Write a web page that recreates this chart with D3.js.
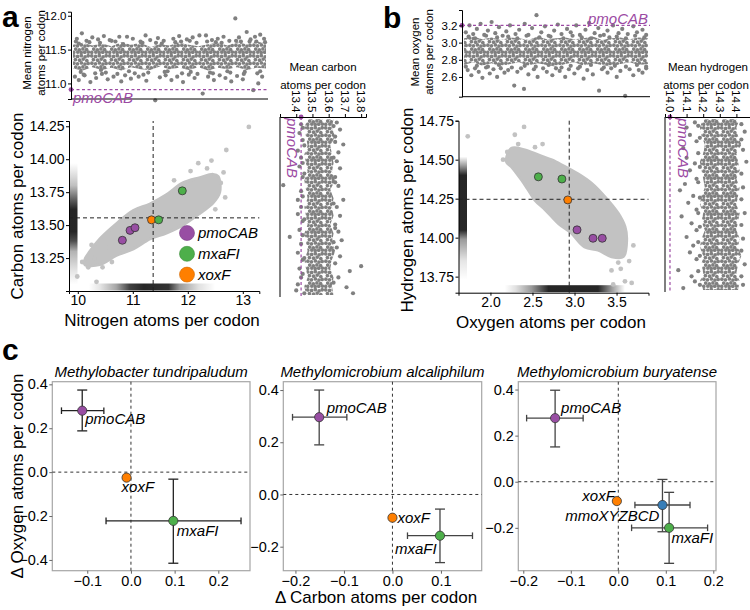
<!DOCTYPE html>
<html><head><meta charset="utf-8">
<script src="https://cdn.jsdelivr.net/npm/d3@7"></script>
<style>
body{margin:0;background:#fff;}
svg{display:block;background:#fff;}
</style></head><body>
<svg id="fig" width="750" height="610"></svg>
<script>
// ---------------- DATA ----------------
const geneNames = ["pmoCAB","mxaFI","xoxF","mmoXYZBCD"];
const geneColors = ["#984ea3","#4daf4a","#ff7f00","#377eb8"];

// panel a main scatter
const aGenes = ["pmoCAB","pmoCAB","pmoCAB","xoxF","mxaFI","mxaFI"];
const aNitrogen = [10.81,10.95,11.04,11.34,11.47,11.90];
const aCarbon = [13.385,13.46,13.48,13.54,13.54,13.76];
const aMeanNitrogen = 11.37, aMeanCarbon = 13.555;
const aCloudNitrogen = [10.13,10.40,10.70,11.01,11.31,11.61,11.91,12.22,12.46,12.58,12.55,12.46,12.22,11.91,11.61,11.31,11.01,10.70,10.40,10.22,10.13];
const aCloudCarbon = [13.20,13.20,13.27,13.32,13.395,13.44,13.50,13.59,13.67,13.75,13.87,13.885,13.86,13.82,13.73,13.66,13.61,13.51,13.395,13.30,13.24];
const aOutNitrogen = [13.11,12.70,12.43,12.19,9.99,10.34,10.19,10.30,10.50,12.60,12.65,10.08,12.35,10.62,12.68,12.05,10.25,10.45,12.5,11.75];
const aOutCarbon = [14.245,14.07,13.99,13.97,13.11,13.07,13.18,13.25,13.33,13.82,13.90,13.22,13.93,13.22,13.71,13.91,13.35,13.18,13.62,13.84];
const aRugCarbon = [[13.05,0],[13.15,0.1],[13.3,0.3],[13.38,0.7],[13.45,0.85],[13.62,0.85],[13.7,0.6],[13.8,0.25],[13.9,0.1],[13.97,0]];
const aRugNitrogen = [[10.2,0],[10.4,0.1],[10.7,0.35],[10.95,0.75],[11.2,0.85],[11.65,0.8],[11.85,0.4],[12.2,0.12],[12.5,0]];
const aTicksX = [10,11,12,13], aTicksY = [13.25,13.5,13.75,14.0,14.25];

// panel b main scatter
const bGenes = ["mxaFI","mxaFI","xoxF","pmoCAB","pmoCAB","pmoCAB"];
const bOxygen = [2.57,2.85,2.92,3.03,3.22,3.33];
const bHydrogen = [14.39,14.376,14.242,14.05,13.996,13.996];
const bMeanOxygen = 2.937, bMeanHydrogen = 14.246;
const bCloudOxygen = [2.19,2.25,2.41,2.57,2.73,2.885,3.04,3.20,3.36,3.52,3.60,3.62,3.58,3.44,3.28,3.12,2.96,2.81,2.65,2.53,2.45,2.37,2.25];
const bCloudHydrogen = [14.487,14.573,14.562,14.53,14.498,14.455,14.41,14.35,14.263,14.156,14.07,13.985,13.878,13.878,13.92,13.94,14.03,14.09,14.18,14.24,14.306,14.37,14.455];
const bOutOxygen = [1.73,2.40,2.29,2.53,3.60,3.68,3.46,3.44,2.15,3.65,2.20,3.55,2.33,3.70,3.52,2.62];
const bOutHydrogen = [14.65,14.71,14.66,14.58,13.72,13.71,13.70,13.79,14.50,13.85,14.55,13.80,14.60,13.95,13.84,14.6];
const bRugHydrogen = [[13.73,0],[13.85,0.1],[13.99,0.4],[14.05,0.85],[14.4,0.85],[14.46,0.4],[14.52,0]];
const bRugOxygen = [[2.17,0],[2.3,0.12],[2.49,0.4],[2.69,0.85],[3.28,0.85],[3.44,0.4],[3.6,0]];
const bTicksX = [2.0,2.5,3.0,3.5], bTicksY = [13.75,14.0,14.25,14.5,14.75];

// top strips: [gene index %, low, high] of the dense band, plus single genes [gene index %, value]
const nitrogenBand = [[0,11.22,11.57],[5,11.19,11.6],[10,11.24,11.56],[15,11.2,11.59],[20,11.23,11.55],[25,11.19,11.61],[30,11.24,11.57],[35,11.21,11.6],[40,11.2,11.54],[45,11.25,11.58],[50,11.21,11.56],[55,11.23,11.61],[60,11.2,11.57],[65,11.24,11.55],[70,11.19,11.58],[75,11.23,11.6],[80,11.21,11.56],[85,11.24,11.61],[90,11.2,11.58],[95,11.23,11.62],[100,11.22,11.59]];
const nitrogenGenes = [[2,11.66],[4.6,11.74],[7,11.63],[10,11.68],[13,11.65],[16,11.7],[19,11.64],[24,11.69],[28,11.69],[31,11.66],[35,11.62],[37.6,11.71],[40,11.64],[44,11.67],[47,11.63],[52,11.66],[55,11.7],[59,11.65],[62,11.68],[65.5,11.71],[68.9,11.71],[72,11.64],[75,11.66],[78,11.69],[81,11.63],[84.1,11.96],[86,11.68],[90,11.76],[92,11.65],[94.3,11.69],[97,11.72],[99,11.66],
 [1,11.1],[3,11.05],[6,11.12],[9,11.02],[12,11.08],[15,11.14],[18,11.06],[21,11.1],[25,11.03],[27,11.12],[30,11.07],[34,11.1],[38,11.04],[42.6,10.75],[45,11.09],[48,11.12],[51,11.05],[54,11.1],[57,11.02],[60,11.13],[63,11.08],[67.2,10.85],[70,11.1],[73,11.05],[76,11.12],[79,11.08],[82,11.03],[85,11.11],[88,11.06],[93.4,10.9],[96,11.0],[98,11.1],
 [3,11.59],[14,11.6],[22,11.62],[36,11.6],[46,11.59],[56,11.62],[64,11.6],[74,11.61],[87,11.62],[95,11.62],[4,11.17],[17,11.16],[29,11.18],[39,11.16],[49,11.18],[61,11.17],[71,11.16],[80,11.18],[89,11.17],[97,11.18],
 [1.5,11.62],[5.5,11.13],[8.5,11.61],[11.5,11.15],[14.5,11.2],[20,11.63],[23,11.14],[26,11.58],[32,11.15],[36.5,11.13],[43,11.6],[47.5,11.17],[53,11.61],[56.5,11.15],[60.5,11.63],[64.5,11.14],[69.5,11.62],[72.5,11.15],[77,11.6],[81.5,11.16],[84.5,11.63],[88.5,11.14],[91.5,11.62],[95.5,11.15],[99.5,11.61]];
const nitrogenPmo = 10.91;
const nitrogenTicks = [11.0,11.5,12.0];

const oxygenBand = [[0,2.74,3.05],[5,2.77,3.07],[10,2.73,3.04],[15,2.76,3.06],[20,2.72,3.03],[25,2.75,3.06],[30,2.77,3.05],[35,2.73,3.03],[40,2.76,3.07],[45,2.74,3.04],[50,2.72,3.05],[55,2.75,3.06],[60,2.77,3.04],[65,2.73,3.05],[70,2.76,3.07],[75,2.74,3.03],[80,2.72,3.05],[85,2.75,3.06],[90,2.77,3.04],[95,2.74,3.06],[100,2.75,3.05]];
const oxygenGenes = [[1,3.12],[3,3.2],[5,3.1],[7,3.16],[9,3.22],[11,3.09],[13,3.14],[15,3.24],[17,3.11],[19,3.18],[21,3.08],[23,3.13],[25,3.2],[28,3.1],[30,3.15],[33,3.22],[35,3.09],[37,3.17],[39.4,3.32],[42,3.12],[44,3.19],[46,3.08],[49,3.14],[51,3.21],[53,3.1],[56,3.16],[58,3.12],[61,3.2],[63,3.09],[66,3.15],[68,3.23],[71,3.11],[73,3.17],[76,3.09],[78,3.14],[81,3.2],[84,3.11],[86,3.16],[89,3.1],[92,3.19],[94,3.12],[97,3.15],[99,3.09],
 [2,2.68],[4,2.62],[6,2.7],[8,2.66],[10,2.59],[12,2.71],[14,2.64],[16,2.69],[18,2.6],[20,2.7],[22,2.65],[24,2.68],[27.3,2.5],[29,2.66],[31,2.7],[32.6,2.46],[35,2.63],[38,2.69],[40,2.6],[43,2.7],[45,2.66],[48,2.62],[50,2.7],[52,2.67],[55,2.6],[57,2.69],[60,2.64],[62,2.7],[65,2.58],[67,2.68],[70,2.63],[73.4,2.44],[75,2.69],[78,2.65],[80,2.7],[83,2.6],[85,2.67],[87.6,2.38],[90,2.69],[92,2.62],[95,2.68],[97,2.65],[99,2.7],
 [2.5,3.07],[6,3.05],[12,3.08],[18,3.06],[24,3.07],[29,3.05],[34,3.08],[41,3.06],[47,3.07],[54,3.05],[59,3.08],[64,3.06],[69,3.05],[74,3.08],[79,3.06],[83,3.07],[88,3.05],[93,3.08],[98,3.06],
 [1,2.72],[7,2.73],[13,2.72],[19,2.74],[26,2.71],[33,2.73],[39,2.72],[46,2.74],[53,2.71],[58,2.73],[63,2.72],[69,2.74],[76,2.71],[82,2.73],[88,2.72],[94,2.74],[99,2.72]];
const oxygenPmo = 3.2;
const oxygenTicks = [2.6,2.8,3.0,3.2];

// right strips (rotated): [gene index %, low, high] and [gene index %, value]
const carbonBand = [[0,13.47,13.63],[5,13.45,13.62],[10,13.46,13.64],[15,13.47,13.61],[20,13.45,13.62],[25,13.46,13.63],[30,13.47,13.62],[35,13.45,13.64],[40,13.46,13.61],[45,13.47,13.63],[50,13.45,13.62],[55,13.46,13.63],[60,13.47,13.61],[65,13.45,13.63],[70,13.46,13.62],[75,13.47,13.64],[80,13.45,13.62],[85,13.46,13.61],[90,13.47,13.63],[95,13.45,13.62],[100,13.46,13.63]];
const carbonGenes = [[3,13.43],[8,13.42],[12,13.44],[18,13.41],[22,13.43],[27,13.42],[33,13.44],[37.6,13.32],[41,13.43],[46,13.41],[50,13.43],[54,13.41],[58,13.44],[63,13.42],[67,13.36],[71,13.43],[76,13.41],[80,13.44],[85,13.42],[90,13.43],[94,13.41],[97.4,13.40],
 [2,13.65],[6,13.67],[10,13.64],[14.5,13.69],[19,13.66],[24,13.65],[28,13.67],[33,13.64],[38,13.66],[45.9,13.69],[50,13.65],[55,13.67],[60,13.64],[64,13.66],[68.9,13.68],[73,13.65],[78,13.67],[83.6,13.80],[86.4,13.73],[90,13.66],[95.6,13.71],[99,13.75],
 [5,13.44],[15,13.45],[25,13.44],[31,13.45],[44,13.44],[57,13.45],[66,13.44],[79,13.45],[88,13.44],[99,13.45],[4,13.63],[13,13.64],[22,13.63],[36,13.64],[48,13.63],[62,13.64],[70,13.63],[82,13.64],[93,13.63]];
const carbonPmo = 13.43;
const carbonTicks = [13.4,13.5,13.6,13.7,13.8];

const hydrogenBand = [[0,14.2,14.42],[5,14.18,14.4],[10,14.19,14.41],[15,14.21,14.43],[20,14.2,14.4],[25,14.18,14.41],[30,14.19,14.42],[35,14.2,14.4],[40,14.21,14.42],[45,14.19,14.41],[50,14.18,14.4],[55,14.2,14.42],[60,14.19,14.41],[65,14.21,14.4],[70,14.19,14.42],[75,14.18,14.41],[80,14.2,14.43],[85,14.19,14.41],[90,14.2,14.4],[95,14.18,14.42],[100,14.2,14.41]];
const hydrogenGenes = [[2,14.15],[5,14.1],[9.3,14.12],[13,14.16],[17,14.08],[22.7,14.10],[26,14.15],[30,14.12],[35,14.16],[38,14.09],[41.7,14.06],[45,14.14],[49,14.11],[53,14.16],[57,14.07],[61,14.13],[65,14.16],[69,14.1],[74,14.14],[78,14.12],[82,14.16],[88.4,14.05],[92,14.13],[95,14.15],[98.9,14.08],
 [3,14.43],[7.4,14.45],[12,14.43],[18,14.44],[25,14.46],[32,14.43],[40,14.44],[47,14.43],[55,14.45],[62,14.43],[70,14.44],[77,14.43],[85,14.45],[92,14.43],[97,14.44],
 [4,14.17],[11,14.18],[20,14.17],[28,14.18],[37,14.17],[46,14.18],[55,14.17],[63,14.18],[72,14.17],[80,14.18],[89,14.17],[97,14.18]];
const hydrogenPmo = 14.0;
const hydrogenTicks = [14.0,14.1,14.2,14.3,14.4];

// panel c
const speciesNames = ["Methylobacter tundripaludum","Methylomicrobium alcaliphilum","Methylomicrobium buryatense"];
const cGenes = [["pmoCAB","xoxF","mxaFI"],["pmoCAB","xoxF","mxaFI"],["pmoCAB","xoxF","mmoXYZBCD","mxaFI"]];
const cDeltaCarbon   = [[-0.1115,-0.010,0.097],[-0.151,0.0,0.098],[-0.133,-0.003,0.093,0.107]];
const cDeltaCarbonLo = [[-0.159,null,-0.057],[-0.206,null,0.031],[-0.193,null,0.035,0.028]];
const cDeltaCarbonHi = [[-0.062,null,0.252],[-0.094,null,0.165],[-0.074,null,0.151,0.188]];
const cDeltaOxygen   = [[0.280,-0.025,-0.222],[0.296,-0.089,-0.158],[0.276,-0.084,-0.101,-0.200]];
const cDeltaOxygenLo = [[0.188,null,-0.415],[0.19,null,-0.261],[0.151,null,-0.217,-0.354]];
const cDeltaOxygenHi = [[0.374,null,-0.032],[0.40,null,-0.056],[0.397,null,0.01,-0.046]];
const cTicksX = [[-0.1,0,0.1,0.2],[-0.2,-0.1,0,0.1],[-0.2,-0.1,0,0.1,0.2]];
const cTicksY = [[-0.4,-0.2,0,0.2,0.4],[-0.2,0,0.2,0.4],[-0.2,0,0.2,0.4]];

// ---------------- DRAWING ----------------
const FONT = '"Liberation Sans", Arial, Helvetica, sans-serif';
const svg = d3.select("#fig").attr("font-family", FONT);
const colorOf = g => geneColors[geneNames.indexOf(g)];
const DOT = "#808080", CLOUD = "#c2c2c2", PMO = "#9b4aa3";
const defs = svg.append("defs");
// irregular dotted texture used for the dense cores of the gene strips (style only)
const texture = [[1.8,1.9],[5.6,2.4],[9.3,1.7],[13.1,2.8],[16.2,1.8],[3.4,5.6],[7.6,6.2],[11.2,5.1],[14.8,6.5],
  [1.9,9.2],[5.5,9.8],[9.4,8.9],[12.9,10.1],[16.1,9.4],[3.7,13.1],[7.3,13.8],[10.9,12.9],[14.6,13.6],
  [1.8,16.3],[5.8,16.1],[9.2,16.4],[12.7,16.2],[16.3,16.1]];
const pat = defs.append("pattern").attr("id", "dots").attr("patternUnits", "userSpaceOnUse")
  .attr("width", 18).attr("height", 18);
pat.selectAll("circle").data(texture).join("circle")
  .attr("cx", d => d[0]).attr("cy", d => d[1]).attr("r", 1.85).attr("fill", DOT);

function styleAxis(g, fs) {
  g.attr("font-family", FONT).attr("font-size", fs);
  g.selectAll(".domain").attr("stroke", "#000");
  g.selectAll(".tick line").attr("stroke", "#000");
  g.selectAll(".tick text").attr("fill", "#000");
}
function text(x, y, s, o = {}) {
  const t = svg.append("text").attr("x", x).attr("y", y).text(s)
    .attr("font-size", o.fs || 12).attr("fill", o.fill || "#000")
    .attr("text-anchor", o.anchor || "start");
  if (o.italic) t.attr("font-style", "italic");
  if (o.bold) t.attr("font-weight", "bold");
  if (o.rot !== undefined) t.attr("transform", `rotate(${o.rot},${x},${y})`);
  if (o.dy) t.attr("dy", o.dy);
  return t;
}
let gradId = 0;
function rug(scale, stops, vertical, pos, len) {
  const id = "rug" + (gradId++);
  const p0 = scale(stops[0][0]), p1 = scale(stops[stops.length - 1][0]);
  const grad = defs.append("linearGradient").attr("id", id).attr("gradientUnits", "userSpaceOnUse");
  if (vertical) grad.attr("x1", 0).attr("x2", 0).attr("y1", p0).attr("y2", p1);
  else grad.attr("y1", 0).attr("y2", 0).attr("x1", p0).attr("x2", p1);
  stops.forEach(s => grad.append("stop").attr("offset", (scale(s[0]) - p0) / (p1 - p0))
    .attr("stop-color", "#000").attr("stop-opacity", s[1]));
  const r = svg.append("rect").attr("fill", `url(#${id})`);
  if (vertical) r.attr("x", pos).attr("width", len).attr("y", Math.min(p0, p1)).attr("height", Math.abs(p1 - p0));
  else r.attr("y", pos - len).attr("height", len).attr("x", Math.min(p0, p1)).attr("width", Math.abs(p1 - p0));
}

function mainScatter(cfg) {
  const x = d3.scaleLinear().domain(cfg.xd).range(cfg.xr);
  const y = d3.scaleLinear().domain(cfg.yd).range(cfg.yr);
  rug(y, cfg.rugY, true, cfg.xr[0] + 0.5, 8);
  rug(x, cfg.rugX, false, cfg.yr[0] - 0.5, 7);
  const pts = cfg.cloudX.map((v, i) => [v, cfg.cloudY[i]]);
  svg.append("path").datum(pts)
    .attr("d", d3.line().x(d => x(d[0])).y(d => y(d[1])).curve(d3.curveCatmullRomClosed))
    .attr("fill", CLOUD).attr("stroke", CLOUD).attr("stroke-width", 3);
  svg.append("g").selectAll("circle").data(cfg.outX).join("circle")
    .attr("cx", d => x(d)).attr("cy", (d, i) => y(cfg.outY[i])).attr("r", 2.4).attr("fill", CLOUD);
  svg.append("line").attr("x1", x(cfg.meanX)).attr("x2", x(cfg.meanX)).attr("y1", cfg.yr[0]).attr("y2", cfg.yr[1])
    .attr("stroke", "#222").attr("stroke-dasharray", "4,3");
  svg.append("line").attr("y1", y(cfg.meanY)).attr("y2", y(cfg.meanY)).attr("x1", cfg.xr[0]).attr("x2", cfg.xr[1])
    .attr("stroke", "#222").attr("stroke-dasharray", "4,3");
  svg.append("g").selectAll("circle").data(cfg.genes).join("circle")
    .attr("cx", (d, i) => x(cfg.gx[i])).attr("cy", (d, i) => y(cfg.gy[i])).attr("r", 4)
    .attr("fill", d => colorOf(d)).attr("stroke", "#333").attr("stroke-width", 0.8);
  const ax = svg.append("g").attr("transform", `translate(0,${cfg.yr[0]})`)
    .call(d3.axisBottom(x).tickValues(cfg.ticksX).tickFormat(d3.format(cfg.fx)).tickSizeOuter(0).tickSize(3).tickPadding(1.5));
  styleAxis(ax, 14);
  const ay = svg.append("g").attr("transform", `translate(${cfg.xr[0]},0)`)
    .call(d3.axisLeft(y).tickValues(cfg.ticksY).tickFormat(d3.format(".2f")).tickSizeOuter(0).tickSize(3).tickPadding(1.5));
  styleAxis(ay, 14);
  return { x, y };
}

// ---- panel a main
mainScatter({
  xd: [9.84, 13.3], xr: [69, 259.3], yd: [13.0, 14.29], yr: [291, 121],
  rugY: aRugCarbon, rugX: aRugNitrogen, cloudX: aCloudNitrogen, cloudY: aCloudCarbon,
  outX: aOutNitrogen, outY: aOutCarbon, meanX: aMeanNitrogen, meanY: aMeanCarbon,
  genes: aGenes, gx: aNitrogen, gy: aCarbon, ticksX: aTicksX, ticksY: aTicksY, fx: "d"
});
text(17, 206, "Carbon atoms per codon", { fs: 17, rot: -90, anchor: "middle", dy: "0.35em" });
text(162, 326, "Nitrogen atoms per codon", { fs: 17, anchor: "middle" });
// legend
["pmoCAB", "mxaFI", "xoxF"].forEach((g, i) => {
  const cy = 233 + i * 20.8;
  svg.append("circle").attr("cx", 187).attr("cy", cy).attr("r", 7.5).attr("fill", colorOf(g))
    .attr("stroke", d3.color(colorOf(g)).darker(0.6)).attr("stroke-width", 0.6);
  text(198, cy, g, { fs: 15, italic: true, dy: "0.35em" });
});

// ---- panel b main
mainScatter({
  xd: [1.62, 3.88], xr: [458.5, 648.5], yd: [13.647, 14.75], yr: [292.7, 120.7],
  rugY: bRugHydrogen, rugX: bRugOxygen, cloudX: bCloudOxygen, cloudY: bCloudHydrogen,
  outX: bOutOxygen, outY: bOutHydrogen, meanX: bMeanOxygen, meanY: bMeanHydrogen,
  genes: bGenes, gx: bOxygen, gy: bHydrogen, ticksX: bTicksX, ticksY: bTicksY, fx: ".1f"
});
text(407, 210, "Hydrogen atoms per codon", { fs: 17, rot: -90, anchor: "middle", dy: "0.35em" });
text(551, 328, "Oxygen atoms per codon", { fs: 17, anchor: "middle" });

// ---- top strips
function topStrip(cfg) {
  const x = d3.scaleLinear().domain([0, 100]).range([cfg.x0 + 2, cfg.x1 - 2]);
  const y = d3.scaleLinear().domain(cfg.yd).range(cfg.yr);
  svg.append("path").datum(cfg.band)
    .attr("d", d3.area().x(d => x(d[0])).y0(d => y(d[1])).y1(d => y(d[2])))
    .attr("fill", "url(#dots)");
  svg.append("g").selectAll("circle").data(cfg.genes).join("circle")
    .attr("cx", d => x(d[0])).attr("cy", d => y(d[1])).attr("r", 2.1).attr("fill", DOT);
  const py = y(cfg.pmo);
  svg.append("line").attr("x1", cfg.x0).attr("x2", cfg.x1).attr("y1", py).attr("y2", py)
    .attr("stroke", PMO).attr("stroke-width", 1.2).attr("stroke-dasharray", "3,2.5");
  svg.append("circle").attr("cx", cfg.x0).attr("cy", py).attr("r", 2.4).attr("fill", PMO);
  svg.append("line").attr("x1", cfg.x0).attr("x2", cfg.x1).attr("y1", cfg.yr[0]).attr("y2", cfg.yr[0]).attr("stroke", "#000");
  const ay = svg.append("g").attr("transform", `translate(${cfg.x0},0)`)
    .call(d3.axisLeft(y).tickValues(cfg.ticks).tickFormat(d3.format(".1f")).tickSizeOuter(0).tickSize(3).tickPadding(1.5));
  styleAxis(ay, 11.5);
  return { x, y, py };
}
const sa = topStrip({ x0: 71, x1: 268, yd: [10.77, 12.06], yr: [99, 11.7], band: nitrogenBand, genes: nitrogenGenes, pmo: nitrogenPmo, ticks: nitrogenTicks });
text(73, sa.py + 8, "pmoCAB", { fs: 15, italic: true, fill: PMO, dy: "0.35em" });
text(27, 53, "Mean nitrogen", { fs: 11.5, rot: -90, anchor: "middle", dy: "0.35em" });
text(41, 53, "atoms per codon", { fs: 11.5, rot: -90, anchor: "middle", dy: "0.35em" });

const sb = topStrip({ x0: 462, x1: 650, yd: [2.37, 3.38], yr: [96.7, 10], band: oxygenBand, genes: oxygenGenes, pmo: oxygenPmo, ticks: oxygenTicks });
text(648, sb.py - 1.5, "pmoCAB", { fs: 15, italic: true, fill: PMO, anchor: "end" });
text(415, 52, "Mean oxygen", { fs: 11.5, rot: -90, anchor: "middle", dy: "0.35em" });
text(428.5, 52, "atoms per codon", { fs: 11.5, rot: -90, anchor: "middle", dy: "0.35em" });

// ---- right strips (rotated)
function rightStrip(cfg) {
  const x = d3.scaleLinear().domain(cfg.xd).range(cfg.xr);
  const y = d3.scaleLinear().domain([0, 100]).range([cfg.y0 + 2, cfg.y1 - 2]);
  svg.append("path").datum(cfg.band)
    .attr("d", d3.area().y(d => y(d[0])).x0(d => x(d[1])).x1(d => x(d[2])))
    .attr("fill", "url(#dots)");
  svg.append("g").selectAll("circle").data(cfg.genes).join("circle")
    .attr("cx", d => x(d[1])).attr("cy", d => y(d[0])).attr("r", 2.1).attr("fill", DOT);
  const px = x(cfg.pmo);
  svg.append("line").attr("x1", px).attr("x2", px).attr("y1", cfg.y0).attr("y2", cfg.y1)
    .attr("stroke", PMO).attr("stroke-width", 1.2).attr("stroke-dasharray", "3,2.5");
  svg.append("circle").attr("cx", px).attr("cy", cfg.y0).attr("r", 2.4).attr("fill", PMO);
  svg.append("line").attr("x1", cfg.xr[0]).attr("x2", cfg.xr[0]).attr("y1", cfg.y0).attr("y2", cfg.y1).attr("stroke", "#000");
  const ax = svg.append("g").attr("transform", `translate(0,${cfg.y0})`)
    .call(d3.axisTop(x).tickValues(cfg.ticks).tickFormat("").tickSizeOuter(0).tickSize(3));
  styleAxis(ax, 11.5);
  cfg.ticks.forEach(t => text(x(t), cfg.y0 - 4.5, d3.format(".1f")(t), { fs: 11.5, rot: 90, anchor: "end", dy: "0.35em" }));
  return { x, y, px };
}
const ra = rightStrip({ xd: [13.3, 13.83], xr: [280, 366], y0: 117, y1: 297, band: carbonBand, genes: carbonGenes, pmo: carbonPmo, ticks: carbonTicks });
text(287, 118, "pmoCAB", { fs: 15, italic: true, fill: PMO, rot: 90 });
text(323, 70.5, "Mean carbon", { fs: 11.5, anchor: "middle" });
text(323, 88.5, "atoms per codon", { fs: 11.5, anchor: "middle" });

const rb = rightStrip({ xd: [13.97, 14.5], xr: [665, 753], y0: 117, y1: 292, band: hydrogenBand, genes: hydrogenGenes, pmo: hydrogenPmo, ticks: hydrogenTicks });
text(677.5, 118, "pmoCAB", { fs: 15, italic: true, fill: PMO, rot: 90 });
text(708, 70.5, "Mean hydrogen", { fs: 11.5, anchor: "middle" });
text(706, 88.5, "atoms per codon", { fs: 11.5, anchor: "middle" });

// ---- panel labels
text(2, 27, "a", { fs: 30, bold: true });
text(383, 28, "b", { fs: 30, bold: true });
text(2, 360, "c", { fs: 30, bold: true });

// ---- panel c
const boxLayout = [
  { x0: 52.3, x1: 250, xd: [-0.18, 0.2725], yd: [-0.449, 0.412],
    lab: [[3, 8, "start"], [-5, 9, "start"], [3.5, 9.5, "start"]] },
  { x0: 283.3, x1: 481.7, xd: [-0.225, 0.184], yd: [-0.292, 0.432],
    lab: [[7.5, -9, "start"], [5, 0, "start"], [-45, 12.6, "start"]] },
  { x0: 518.3, x1: 716, xd: [-0.2105, 0.2057], yd: [-0.386, 0.434],
    lab: [[6, -10.7, "start"], [-2, -5, "end"], [-3, 11, "end"], [2.4, 9.6, "start"]] }
];
const cTop = 381.7, cBot = 570.7;
boxLayout.forEach((L, b) => {
  const x = d3.scaleLinear().domain(L.xd).range([L.x0, L.x1]);
  const y = d3.scaleLinear().domain(L.yd).range([cBot, cTop]);
  svg.append("rect").attr("x", L.x0).attr("y", cTop).attr("width", L.x1 - L.x0).attr("height", cBot - cTop)
    .attr("fill", "none").attr("stroke", "#a6a6a6").attr("stroke-width", 1.2);
  svg.append("line").attr("x1", x(0)).attr("x2", x(0)).attr("y1", cTop).attr("y2", cBot)
    .attr("stroke", "#333").attr("stroke-dasharray", "3,3");
  svg.append("line").attr("x1", L.x0).attr("x2", L.x1).attr("y1", y(0)).attr("y2", y(0))
    .attr("stroke", "#333").attr("stroke-dasharray", "3,3");
  const ax = svg.append("g").attr("transform", `translate(0,${cBot})`)
    .call(d3.axisBottom(x).tickValues(cTicksX[b]).tickFormat(d3.format(".1f")).tickSizeOuter(0).tickSize(3).tickPadding(2));
  styleAxis(ax, 14.5); ax.select(".domain").remove();
  ax.selectAll(".tick line").attr("stroke", "#666");
  const ay = svg.append("g").attr("transform", `translate(${L.x0},0)`)
    .call(d3.axisLeft(y).tickValues(cTicksY[b]).tickFormat(d3.format(".1f")).tickSizeOuter(0).tickSize(3).tickPadding(1.5));
  styleAxis(ay, 14.5); ay.select(".domain").remove();
  ay.selectAll(".tick line").attr("stroke", "#666");
  text((L.x0 + L.x1) / 2, 376.5, speciesNames[b], { fs: 15, italic: true, anchor: "middle" });
  const ebColor = b === 0 ? "#222" : "#444";
  cGenes[b].forEach((g, i) => {
    const cx = x(cDeltaCarbon[b][i]), cy = y(cDeltaOxygen[b][i]);
    if (cDeltaCarbonLo[b][i] !== null) {
      const xl = x(cDeltaCarbonLo[b][i]), xh = x(cDeltaCarbonHi[b][i]);
      const yl = y(cDeltaOxygenLo[b][i]), yh = y(cDeltaOxygenHi[b][i]);
      const eb = svg.append("g").attr("stroke", ebColor).attr("stroke-width", 1.3);
      eb.append("line").attr("x1", xl).attr("x2", xh).attr("y1", cy).attr("y2", cy);
      eb.append("line").attr("x1", xl).attr("x2", xl).attr("y1", cy - 3.3).attr("y2", cy + 3.3);
      eb.append("line").attr("x1", xh).attr("x2", xh).attr("y1", cy - 3.3).attr("y2", cy + 3.3);
      eb.append("line").attr("x1", cx).attr("x2", cx).attr("y1", yl).attr("y2", yh);
      eb.append("line").attr("x1", cx - 5).attr("x2", cx + 5).attr("y1", yl).attr("y2", yl);
      eb.append("line").attr("x1", cx - 5).attr("x2", cx + 5).attr("y1", yh).attr("y2", yh);
    }
    svg.append("circle").attr("cx", cx).attr("cy", cy).attr("r", 4.6)
      .attr("fill", colorOf(g)).attr("stroke", "#333").attr("stroke-width", 0.8);
    const lp = L.lab[i];
    text(cx + lp[0], cy + lp[1], g, { fs: 15, italic: true, anchor: lp[2], dy: "0.35em" });
  });
});
text(17, 476, "Δ Oxygen atoms per codon", { fs: 17, rot: -90, anchor: "middle", dy: "0.35em" });
text(376, 597, "Δ Carbon atoms per codon", { fs: 17, anchor: "middle", dy: "0.35em" });
</script>
</body></html>
